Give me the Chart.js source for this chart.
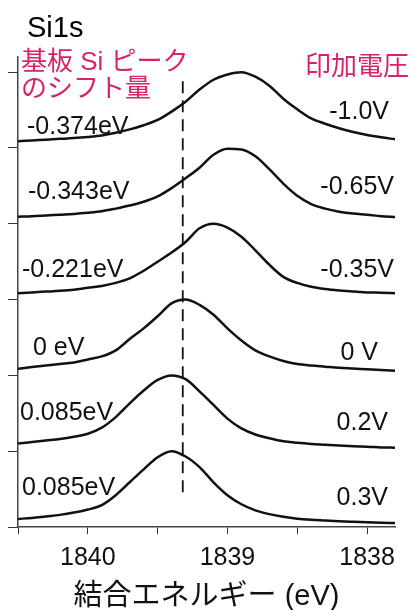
<!DOCTYPE html>
<html>
<head>
<meta charset="utf-8">
<script src="https://cdn.jsdelivr.net/npm/chart.js@4.4.1/dist/chart.umd.min.js"></script>
<style>
	html, body { margin: 0; padding: 0; background: #fff; }
</style>
</head>
<body>
<canvas id="xpsChart" width="412" height="610"></canvas>
<script>
// binding energy grid (eV), shared by all spectra
const energies = [1840.5, 1840.4, 1840.3, 1840.2, 1840.1, 1840.0, 1839.9, 1839.8, 1839.7, 1839.6,
	1839.5, 1839.4, 1839.3, 1839.2, 1839.1, 1839.0, 1838.9, 1838.8, 1838.7, 1838.6,
	1838.5, 1838.4, 1838.3, 1838.2, 1838.1, 1838.0, 1837.9, 1837.8];

// normalised intensities, top spectrum first
const specM100 = [0.09, 0.10, 0.11, 0.12, 0.13, 0.145, 0.165, 0.20, 0.245, 0.30, 0.37, 0.48, 0.61, 0.77, 0.90, 0.97, 1.00, 0.94, 0.82, 0.65, 0.51, 0.39, 0.32, 0.26, 0.21, 0.17, 0.14, 0.115];
const specM065 = [0.094, 0.10, 0.11, 0.12, 0.13, 0.145, 0.165, 0.20, 0.24, 0.29, 0.36, 0.47, 0.60, 0.74, 0.91, 0.99, 0.98, 0.89, 0.72, 0.53, 0.37, 0.26, 0.20, 0.16, 0.135, 0.12, 0.10, 0.09];
const specM035 = [0.083, 0.095, 0.105, 0.115, 0.13, 0.155, 0.18, 0.22, 0.28, 0.38, 0.50, 0.62, 0.76, 0.94, 1.00, 0.95, 0.83, 0.65, 0.46, 0.30, 0.22, 0.17, 0.14, 0.12, 0.105, 0.095, 0.09, 0.083];
const spec000 = [0.088, 0.11, 0.13, 0.15, 0.17, 0.21, 0.25, 0.33, 0.48, 0.62, 0.78, 0.95, 1.00, 0.93, 0.80, 0.62, 0.46, 0.33, 0.25, 0.19, 0.15, 0.13, 0.115, 0.10, 0.09, 0.08, 0.07, 0.06];
const spec020 = [0.10, 0.12, 0.14, 0.16, 0.19, 0.23, 0.31, 0.45, 0.63, 0.80, 0.94, 1.00, 0.95, 0.79, 0.61, 0.43, 0.30, 0.22, 0.17, 0.13, 0.11, 0.095, 0.085, 0.075, 0.065, 0.06, 0.05, 0.046];
const spec030 = [0.106, 0.12, 0.14, 0.16, 0.19, 0.23, 0.29, 0.42, 0.59, 0.76, 0.92, 1.00, 0.93, 0.79, 0.59, 0.42, 0.30, 0.22, 0.17, 0.135, 0.11, 0.095, 0.085, 0.075, 0.068, 0.062, 0.057, 0.053];

const spectra = [specM100, specM065, specM035, spec000, spec020, spec030];
const offsets = [5, 4, 3, 2, 1, 0];
const voltageLabels = ['-1.0V', '-0.65V', '-0.35V', '0 V', '0.2V', '0.3V'];
const shiftLabels = ['-0.374eV', '-0.343eV', '-0.221eV', '0 eV', '0.085eV', '0.085eV'];

// reference peak position (0 V) and vertical extent of the dashed marker
const refEnergy = 1839.32;
const refSpan = [0.46, 5.96];

const xTickValues = [1840.5, 1840, 1839.5, 1839, 1838.5, 1838];
const yTickValues = [0, 1, 2, 3, 4, 5, 6];

const latin = '"Liberation Sans", Arial, "Noto Sans CJK JP", sans-serif';
const magenta = '#d6246c';

const datasets = spectra.map((vals, k) => ({
	label: voltageLabels[k],
	data: energies.map((e, i) => ({ x: e, y: offsets[k] + vals[i] })),
	borderColor: '#111',
	borderWidth: 2.5,
	pointRadius: 0,
	cubicInterpolationMode: 'monotone',
	fill: false,
	order: 1
}));

datasets.push({
	label: 'ref',
	data: [{ x: refEnergy, y: refSpan[0] }, { x: refEnergy, y: refSpan[1] }],
	borderColor: '#111',
	borderWidth: 1.8,
	borderDash: [12, 7],
	pointRadius: 0,
	fill: false,
	order: 2
});

const annotations = {
	id: 'annotations',
	afterDraw(chart) {
		const c = chart.ctx;
		c.save();
		c.textBaseline = 'middle';

		c.fillStyle = '#000';
		c.textAlign = 'left';
		c.font = '29px ' + latin;
		c.fillText('Si1s', 27, 29);

		c.fillStyle = magenta;
		c.font = '26px ' + latin;
		c.fillText('基板 Si ピーク', 21, 63);
		c.fillText('のシフト量', 21, 90);
		c.fillText('印加電圧', 305, 68);

		c.fillStyle = '#111';
		c.font = '25px ' + latin;
		const leftPos = [[27, 127], [28, 192], [22, 270], [33, 348], [20, 413], [22, 488]];
		shiftLabels.forEach((t, k) => c.fillText(t, leftPos[k][0], leftPos[k][1]));

		c.textAlign = 'right';
		const rightPos = [[389, 112], [394, 187], [394, 270], [378, 353], [388, 423], [388, 498]];
		voltageLabels.forEach((t, k) => c.fillText(t, rightPos[k][0], rightPos[k][1]));
		c.restore();
	}
};

new Chart(document.getElementById('xpsChart').getContext('2d'), {
	type: 'line',
	data: { datasets: datasets },
	options: {
		responsive: false,
		animation: false,
		layout: { padding: { left: 8, right: 17, top: 57, bottom: -2 } },
		plugins: {
			legend: { display: false },
			tooltip: { enabled: false }
		},
		scales: {
			x: {
				type: 'linear',
				reverse: true,
				min: 1837.8,
				max: 1840.5,
				afterBuildTicks: scale => { scale.ticks = xTickValues.map(v => ({ value: v })); },
				border: { display: true, color: '#444', width: 1.5 },
				grid: { drawOnChartArea: false, drawTicks: true, tickLength: 7, tickColor: '#333', tickWidth: 1 },
				ticks: {
					color: '#111',
					padding: 9,
					maxRotation: 0,
					autoSkip: false,
					font: { size: 25, family: latin },
					callback: v => Number.isInteger(v) ? String(v) : ''
				},
				title: {
					display: true,
					text: '結合エネルギー (eV)',
					color: '#111',
					font: { size: 29, family: latin, lineHeight: 1 },
					padding: { top: 0, bottom: 1 }
				}
			},
			y: {
				min: 0,
				max: 6.2,
				afterBuildTicks: scale => { scale.ticks = yTickValues.map(v => ({ value: v })); },
				border: { display: true, color: '#444', width: 1.5 },
				grid: { drawOnChartArea: false, drawTicks: true, tickLength: 10, tickColor: '#333', tickWidth: 1 },
				ticks: { display: false }
			}
		}
	},
	plugins: [annotations]
});
</script>
</body>
</html>
